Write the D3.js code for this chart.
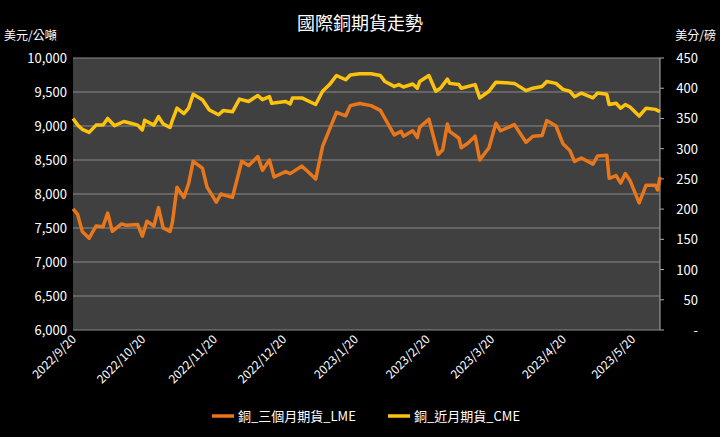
<!DOCTYPE html>
<html><head><meta charset="utf-8">
<script src="https://cdn.jsdelivr.net/npm/d3@7"></script>
<style>body{margin:0;background:#000}</style>
</head><body><svg id="c" width="720" height="437"></svg>
<script>
// days since 2022/9/20 and values
const lmeDays = [0,2,4,7,10,13,15,17,21,23,28,30,32,35,37,39,42,43,45,48,50,52,56,58,62,64,69,73,76,80,82,85,87,92,94,99,101,105,108,111,114,118,120,124,129,133,139,142,143,147,149,150,154,158,160,162,163,167,168,171,174,176,180,183,185,191,196,199,203,205,209,212,215,217,220,225,227,231,232,235,237,239,241,245,248,252,253,254];
const lmeVals = [7780,7700,7450,7350,7530,7520,7720,7450,7560,7540,7550,7380,7600,7530,7800,7500,7450,7580,8100,7950,8150,8480,8380,8100,7880,8000,7950,8480,8420,8550,8350,8500,8250,8330,8300,8410,8350,8220,8700,8950,9200,9150,9300,9330,9300,9230,8870,8920,8850,8930,8830,8980,9100,8580,8650,9030,8920,8820,8680,8750,8850,8500,8680,9040,8930,9020,8760,8850,8860,9080,9000,8740,8640,8480,8530,8440,8560,8570,8230,8270,8160,8300,8200,7870,8130,8130,8060,8250];
const cmeDays = [0,2,4,7,10,13,15,18,22,25,28,30,31,35,37,39,42,43,45,48,50,52,56,59,63,65,69,72,76,80,82,85,86,92,94,95,99,105,108,111,114,118,120,124,129,133,135,139,141,143,147,149,150,154,157,159,162,163,167,168,174,176,180,183,191,196,199,203,205,209,212,215,217,220,225,227,231,232,235,237,239,241,245,248,252,254];
const cmeVals = [350,339,332,327,339,339,350,338,345,342,339,331,347,339,353,341,335,347,367,358,367,390,381,364,356,363,361,382,378,388,381,386,375,378,374,384,384,373,395,406,421,414,422,424,424,421,411,403,406,402,407,400,411,421,395,400,415,408,406,400,406,384,395,410,408,396,400,403,411,408,398,395,386,392,384,392,390,373,375,367,373,369,354,367,365,361];
const leftTicks = [6000,6500,7000,7500,8000,8500,9000,9500,10000];
const rightTicks = [0,50,100,150,200,250,300,350,400,450];
const dateTicks = ["2022/9/20","2022/10/20","2022/11/20","2022/12/20","2023/1/20","2023/2/20","2023/3/20","2023/4/20","2023/5/20"];

const svg = d3.select("#c");
const font = "'Noto Sans CJK TC', 'Noto Sans', sans-serif";
svg.style("font-family", font);
const m = {l: 73, r: 660, t: 58, b: 330};
const start = new Date(2022, 8, 20);
const toDate = d => d3.timeDay.offset(start, d);
const parse = d3.timeParse("%Y/%-m/%-d");

const x = d3.scaleTime().domain([start, toDate(254)]).range([m.l, m.r]);
const yL = d3.scaleLinear().domain([6000, 10000]).range([m.b, m.t]);
const yR = d3.scaleLinear().domain([0, 450]).range([m.b, m.t]);

svg.append("rect").attr("width", 720).attr("height", 437).attr("fill", "#000");
svg.append("rect").attr("x", m.l).attr("y", m.t).attr("width", m.r - m.l).attr("height", m.b - m.t).attr("fill", "#404040");

// gridlines
leftTicks.forEach(t => {
  svg.append("line").attr("x1", m.l).attr("x2", m.r).attr("y1", yL(t)).attr("y2", yL(t))
    .attr("stroke", "#8a8a8a").attr("stroke-width", 1);
});

// left axis labels
leftTicks.forEach(t => {
  svg.append("text").attr("x", m.l - 6).attr("y", yL(t) + 5).attr("text-anchor", "end")
    .attr("fill", "#fff").attr("font-size", 13).text(d3.format(",")(t));
});
// right axis
svg.append("line").attr("x1", m.r).attr("x2", m.r).attr("y1", m.t).attr("y2", m.b).attr("stroke", "#aaa");
rightTicks.forEach(t => {
  svg.append("line").attr("x1", m.r).attr("x2", m.r + 4).attr("y1", yR(t)).attr("y2", yR(t)).attr("stroke", "#aaa");
  svg.append("text").attr("x", m.r + 38).attr("y", yR(t) + 5).attr("text-anchor", "end")
    .attr("fill", "#fff").attr("font-size", 13).text(t === 0 ? "-" : t);
});

// x labels
dateTicks.forEach(s => {
  const px = x(parse(s));
  svg.append("text").attr("transform", `translate(${px + 4},${m.b + 10}) rotate(-45)`)
    .attr("text-anchor", "end").attr("fill", "#fff").attr("font-size", 12).text(s);
});

// lines
const lme = lmeDays.map((d, i) => ({date: toDate(d), v: lmeVals[i]}));
const cme = cmeDays.map((d, i) => ({date: toDate(d), v: cmeVals[i]}));
svg.append("path").datum(lme).attr("fill", "none").attr("stroke", "#e8761a").attr("stroke-width", 3.5)
  .attr("stroke-linejoin", "round").attr("d", d3.line().x(d => x(d.date)).y(d => yL(d.v)));
svg.append("path").datum(cme).attr("fill", "none").attr("stroke", "#fcc20d").attr("stroke-width", 3.5)
  .attr("stroke-linejoin", "round").attr("d", d3.line().x(d => x(d.date)).y(d => yR(d.v)));

// titles
svg.append("text").attr("x", 360).attr("y", 30).attr("text-anchor", "middle").attr("fill", "#fff")
  .attr("font-size", 18).text("國際銅期貨走勢");
svg.append("text").attr("x", 4).attr("y", 40).attr("fill", "#fff").attr("font-size", 12).text("美元/公噸");
svg.append("text").attr("x", 716).attr("y", 40).attr("text-anchor", "end").attr("fill", "#fff").attr("font-size", 12).text("美分/磅");

// legend
const legend = [["銅_三個月期貨_LME", "#e8761a", 212], ["銅_近月期貨_CME", "#fcc20d", 388]];
legend.forEach(([name, col, lx]) => {
  svg.append("line").attr("x1", lx).attr("x2", lx + 22).attr("y1", 416).attr("y2", 416)
    .attr("stroke", col).attr("stroke-width", 3.5);
  svg.append("text").attr("x", lx + 26).attr("y", 421).attr("fill", "#fff").attr("font-size", 13).text(name);
});
</script></body></html>
